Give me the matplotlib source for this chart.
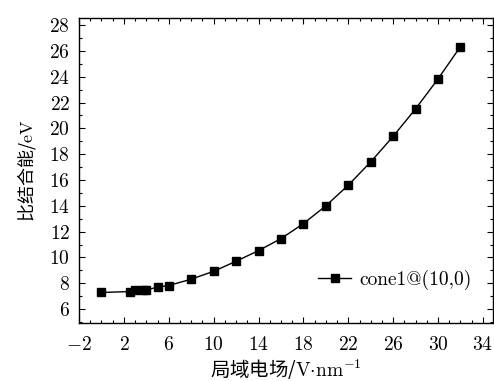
import matplotlib
matplotlib.use("Agg")
import matplotlib.pyplot as plt
from matplotlib.ticker import MultipleLocator

# Specific binding energy of cone1@(10,0) versus local electric field
field = [0, 2.5, 3, 3.7, 4, 5, 6, 8, 10, 12, 14, 16, 18, 20, 22, 24, 26, 28, 30, 32]
energy = [7.29, 7.36, 7.47, 7.47, 7.49, 7.70, 7.83, 8.32, 8.93, 9.71, 10.53,
          11.46, 12.62, 14.00, 15.60, 17.40, 19.38, 21.51, 23.83, 26.33]
series_label = "cone1@(10,0)"

plt.rcParams["mathtext.fontset"] = "cm"
plt.rcParams["font.family"] = ["cmr10", "Noto Sans CJK SC"]
plt.rcParams["axes.formatter.use_mathtext"] = True
plt.rcParams["axes.unicode_minus"] = True

fig = plt.figure(figsize=(4.94, 3.81), dpi=100)
ax = fig.add_axes([0.16, 0.152, 0.838, 0.801])

ax.plot(field, energy, color="black", lw=1.0, marker="s", markersize=6,
        label=series_label)

ax.set_xlim(-2, 34.9)
ax.set_ylim(4.92, 28.55)
ax.xaxis.set_major_locator(MultipleLocator(4, offset=2))
ax.xaxis.set_minor_locator(MultipleLocator(1))
ax.yaxis.set_major_locator(MultipleLocator(2))
ax.yaxis.set_minor_locator(MultipleLocator(1))
ax.tick_params(which="both", direction="in", top=True, right=True,
               labelsize=14, width=0.8)
ax.tick_params(which="major", length=4)
ax.tick_params(axis="x", which="major", pad=9)
ax.tick_params(axis="y", which="major", pad=6.5)
ax.tick_params(which="minor", length=2.5)
for s in ax.spines.values():
    s.set_linewidth(1.0)

ax.set_xlabel("局域电场/$\\mathrm{V{\\cdot}nm^{-1}}$",
              family=["Noto Sans CJK SC"], fontsize=14, labelpad=3)
ax.set_ylabel("比结合能/$\\mathrm{eV}$",
              family=["Noto Sans CJK SC"], fontsize=13, labelpad=8)

leg = ax.legend(loc="lower right", bbox_to_anchor=(0.99, 0.05), frameon=False,
                fontsize=14, handlelength=1.7, handletextpad=0.4)

fig.savefig("out.png", dpi=100)
